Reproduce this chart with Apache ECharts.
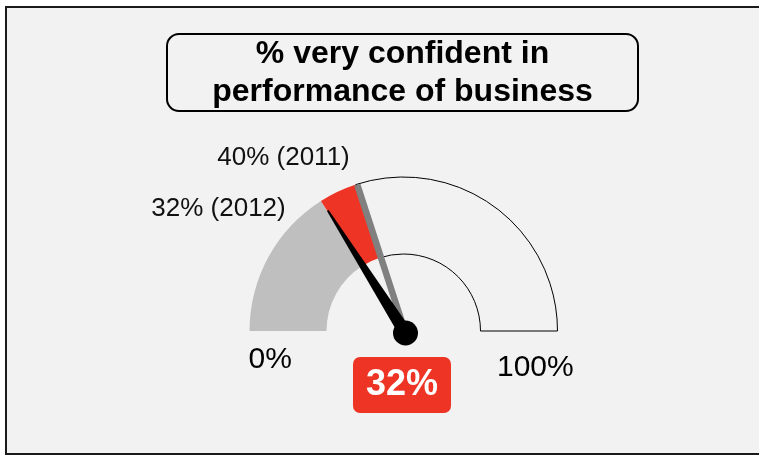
<!DOCTYPE html>
<html>
<head>
<meta charset="utf-8">
<style>
  html, body { margin: 0; padding: 0; background: #ffffff; }
  #chart { width: 759px; height: 455px; }
</style>
<script src="https://cdn.jsdelivr.net/npm/echarts@6/dist/echarts.min.js"></script>
</head>
<body>
<div id="chart"></div>
<script>
// ---- data ----
const titleText = ['% very confident in', 'performance of business'];
const years = ['2012', '2011'];
const values = [32, 40];           // current (2012), previous (2011)
const scaleMin = 0;
const scaleMax = 100;
const tickLabels = ['0%', '100%'];

// ---- colours ----
const RED = '#EE3424';
const GREY_ARC = '#BFBFBF';
const GREY_NEEDLE = '#808080';
const BG = '#F2F2F2';
const FONT = '"Liberation Sans", Arial, sans-serif';

const chart = echarts.init(document.getElementById('chart'), null, { renderer: 'canvas' });

const cur = values[0], prev = values[1];
const span = scaleMax - scaleMin;

const option = {
  animation: false,
  backgroundColor: 'transparent',
  graphic: [
    {
      type: 'rect', z: -10, silent: true,
      shape: { x: 6, y: 7, width: 760, height: 447 },
      style: { fill: BG, stroke: '#1a1a1a', lineWidth: 2 }
    },
    {
      type: 'rect', z: 1, silent: true,
      shape: { x: 167, y: 34, width: 471, height: 77, r: 12 },
      style: { fill: 'transparent', stroke: '#000', lineWidth: 2 }
    },
    {
      type: 'text', z: 2, silent: true,
      x: 402.5, y: 73,
      style: {
        text: titleText.join('\n'),
        font: 'bold 32px ' + FONT,
        fill: '#000',
        align: 'center',
        verticalAlign: 'middle',
        lineHeight: 38
      }
    },
    {
      type: 'text', z: 2, silent: true,
      x: 248.5, y: 360,
      style: { text: tickLabels[0], font: '30px ' + FONT, fill: '#000', align: 'left', verticalAlign: 'middle' }
    },
    {
      type: 'text', z: 2, silent: true,
      x: 497, y: 368,
      style: { text: tickLabels[1], font: '30px ' + FONT, fill: '#000', align: 'left', verticalAlign: 'middle' }
    }
  ],
  series: [
    {
      type: 'pie',
      silent: true,
      z: 1,
      center: [403.5, 331],
      radius: [77, 154],
      startAngle: 180,
      clockwise: true,
      label: { show: false },
      labelLine: { show: false },
      emphasis: { disabled: true },
      data: [
        { value: cur - scaleMin, itemStyle: { color: GREY_ARC, borderWidth: 0 } },
        { value: prev - cur, itemStyle: { color: RED, borderWidth: 0 } },
        { value: scaleMax - prev, itemStyle: { color: BG, borderColor: '#000', borderWidth: 1 } },
        { value: span, itemStyle: { color: 'rgba(0,0,0,0)', borderWidth: 0 } }
      ]
    },
    {
      type: 'gauge',
      silent: true,
      z: 5,
      center: [405.5, 333],
      radius: 156,
      startAngle: 180,
      endAngle: 0,
      min: scaleMin,
      max: scaleMax,
      axisLine: { show: false },
      axisTick: { show: false },
      splitLine: { show: false },
      axisLabel: { show: false },
      pointer: {
        icon: 'rect',
        width: 6.5,
        length: 156,
        itemStyle: { color: GREY_NEEDLE }
      },
      anchor: { show: false },
      title: {
        show: true,
        offsetCenter: [-122, -175],
        fontSize: 26,
        fontFamily: FONT,
        color: '#111'
      },
      detail: { show: false },
      data: [{ value: prev, name: prev + '% (' + years[1] + ')' }]
    },
    {
      type: 'gauge',
      silent: true,
      z: 6,
      center: [405.5, 333],
      radius: 156,
      startAngle: 180,
      endAngle: 0,
      min: scaleMin,
      max: scaleMax,
      axisLine: { show: false },
      axisTick: { show: false },
      splitLine: { show: false },
      axisLabel: { show: false },
      pointer: {
        icon: 'path://M5.5,0 L7.5,0 L13,100 L0,100 Z',
        width: 13,
        length: 145,
        itemStyle: { color: '#000' }
      },
      anchor: {
        show: true,
        showAbove: true,
        size: 25,
        itemStyle: { color: '#000' }
      },
      title: {
        show: true,
        offsetCenter: [-187, -124],
        fontSize: 26,
        fontFamily: FONT,
        color: '#111'
      },
      detail: {
        show: true,
        formatter: '{value}%',
        offsetCenter: [-3.5, 52],
        width: 98,
        height: 56,
        lineHeight: 56,
        padding: 0,
        backgroundColor: RED,
        borderRadius: 7,
        color: '#fff',
        fontSize: 36,
        fontWeight: 'bold',
        fontFamily: FONT
      },
      data: [{ value: cur, name: cur + '% (' + years[0] + ')' }]
    }
  ]
};

chart.setOption(option);
</script>
</body>
</html>
